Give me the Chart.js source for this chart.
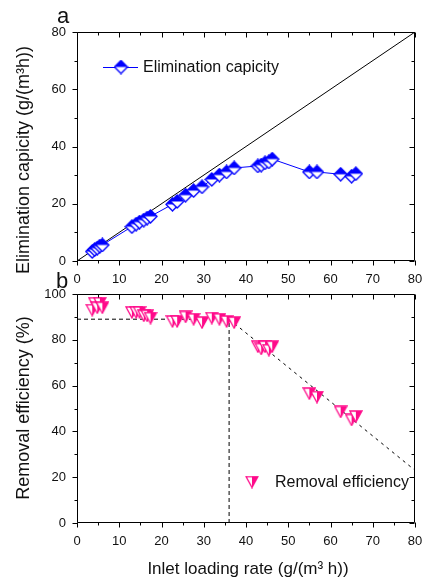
<!DOCTYPE html>
<html><head><meta charset="utf-8">
<script src="https://cdn.jsdelivr.net/npm/chart.js@4"></script>
<style>
html,body{margin:0;padding:0;background:#fff;}
#wrap{position:relative;width:422px;height:580px;overflow:hidden;background:#fff}
canvas{position:absolute;left:0}
#c1{top:0px}
#c2{top:280px}
</style></head><body>
<div id="wrap"><canvas id="c2" width="422" height="300"></canvas><canvas id="c1" width="422" height="295"></canvas></div>
<script>
// ---------- data ----------
const loadingRate = [3.6, 4.2, 4.8, 5.4, 6.0, 13.0, 14.0, 14.8, 15.8, 16.6, 17.4, 22.6, 23.7, 25.7, 27.6, 29.6, 31.9, 33.7, 35.4, 37.2, 42.8, 43.6, 44.5, 45.4, 46.2, 55.0, 56.8, 62.4, 65.0, 66.0];
const eliminationCapacity = [3.3, 4.0, 4.5, 5.2, 5.6, 12.0, 12.9, 13.6, 14.3, 15.0, 15.6, 19.8, 20.8, 23.0, 24.6, 25.9, 28.5, 30.0, 31.1, 32.5, 33.2, 33.5, 34.3, 34.6, 35.6, 31.1, 31.1, 30.3, 29.6, 30.5];
const removalEfficiency = [93, 96, 94, 96, 94, 92, 92, 92, 90.5, 90.5, 89.5, 88, 88, 90, 89, 87.5, 89.5, 89, 88, 87.5, 77, 76, 77, 75.5, 77, 56.5, 55, 48.5, 45, 46.5];
// reference / fitted guide lines
const diagonalX = [0, 80], diagonalY = [0, 80];
const plateauX = [0, 36], plateauY = [89, 89];
const criticalX = [36, 36], criticalY = [0, 89];
const declineX = [36, 80], declineY = [89, 23];
// tick labels
const xTickValues = [0, 10, 20, 30, 40, 50, 60, 70, 80];
const ecTickValues = [0, 20, 40, 60, 80];
const reTickValues = [0, 20, 40, 60, 80, 100];

const FONT = '"Liberation Sans", Arial, sans-serif';
const BLUE = '#0000ff';
const PINK = '#ff0a8a';
const TXT = '#111';

const pts = (xs, ys) => xs.map((x, i) => ({x, y: ys[i]}));

// ---------- marker glyphs ----------
function diamondHalf() {
  const c = document.createElement('canvas'); c.width = 15; c.height = 15;
  const g = c.getContext('2d'); const m = 7.5, r = 6.5;
  g.beginPath(); g.moveTo(m - r, m); g.lineTo(m, m - r); g.lineTo(m + r, m); g.lineTo(m, m + r); g.closePath();
  g.fillStyle = '#fff'; g.fill();
  g.beginPath(); g.moveTo(m - r, m); g.lineTo(m, m - r); g.lineTo(m + r, m); g.closePath();
  g.fillStyle = BLUE; g.fill();
  g.beginPath(); g.moveTo(m - r, m); g.lineTo(m, m - r); g.lineTo(m + r, m); g.lineTo(m, m + r); g.closePath();
  g.strokeStyle = BLUE; g.lineWidth = 1.3; g.stroke();
  return c;
}
function triangleHalf() {
  const c = document.createElement('canvas'); c.width = 14; c.height = 13;
  const g = c.getContext('2d');
  const l = 1, r = 13, t = 1, b = 12, m = 7;
  g.beginPath(); g.moveTo(l, t); g.lineTo(r, t); g.lineTo(m, b); g.closePath();
  g.fillStyle = '#fff'; g.fill();
  g.beginPath(); g.moveTo(m, t); g.lineTo(r, t); g.lineTo(m, b); g.closePath();
  g.fillStyle = PINK; g.fill();
  g.beginPath(); g.moveTo(l, t); g.lineTo(r, t); g.lineTo(m, b); g.closePath();
  g.strokeStyle = PINK; g.lineWidth = 1.3; g.stroke();
  return c;
}
const diamondImg = diamondHalf();
const triangleImg = triangleHalf();

// ---------- plugins ----------
const frame = {
  id: 'frame',
  afterDatasetsDraw(chart, args, o) {
    const {ctx, chartArea: {left, right, top, bottom}, scales: {x, y}} = chart;
    const L = Math.round(left) + 0.5, R = Math.round(right) - 0.5, T = Math.round(top) + 0.5, B = Math.round(bottom) - 0.5;
    ctx.save();
    ctx.strokeStyle = '#000'; ctx.lineWidth = 1;
    ctx.beginPath(); ctx.rect(L, T, R - L, B - T); ctx.stroke();
    ctx.beginPath();
    for (let v = x.min; v <= x.max + 1e-9; v += o.xMinor) {
      const px = Math.round(x.getPixelForValue(v)) + 0.5;
      const len = (Math.abs(v % o.xMajor) < 1e-9) ? 5 : 3;
      ctx.moveTo(px, B); ctx.lineTo(px, B + len);
      ctx.moveTo(px, T); ctx.lineTo(px, T + len);
    }
    for (let v = y.min; v <= y.max + 1e-9; v += o.yMinor) {
      const py = Math.round(y.getPixelForValue(v)) + 0.5;
      const len = (Math.abs(v % o.yMajor) < 1e-9) ? 5 : 3;
      ctx.moveTo(L, py); ctx.lineTo(L - len, py);
      ctx.moveTo(R, py); ctx.lineTo(R - len, py);
    }
    ctx.stroke();
    ctx.restore();
  }
};
const texts = {
  id: 'texts',
  afterDraw(chart, args, o) {
    const ctx = chart.ctx;
    ctx.save();
    ctx.fillStyle = TXT;
    (o.items || []).forEach(it => {
      ctx.save();
      ctx.font = it.size + 'px ' + FONT;
      ctx.textAlign = it.align || 'center';
      ctx.textBaseline = it.baseline || 'middle';
      ctx.translate(it.x, it.y);
      if (it.rot) ctx.rotate(it.rot);
      ctx.fillText(it.text, 0, 0);
      ctx.restore();
    });
    // legend
    const lg = o.legend;
    if (lg) {
      const ds = chart.data.datasets[lg.dataset];
      if (lg.line) {
        ctx.strokeStyle = ds.borderColor; ctx.lineWidth = 1;
        ctx.beginPath(); ctx.moveTo(lg.x0, lg.y + 0.5); ctx.lineTo(lg.x1, lg.y + 0.5); ctx.stroke();
      }
      const img = ds.pointStyle;
      ctx.drawImage(img, lg.mx - img.width / 2, lg.y - img.height / 2);
      ctx.font = lg.size + 'px ' + FONT;
      ctx.textAlign = 'left'; ctx.textBaseline = 'middle';
      ctx.fillStyle = TXT;
      ctx.fillText(ds.label, lg.tx, lg.y + 1);
    }
    ctx.restore();
  }
};

function axis(min, max, values, width, height, pad) {
  return {
    type: 'linear', min, max,
    grid: {display: false, drawTicks: false},
    border: {display: false},
    ticks: {padding: pad, color: TXT, font: {family: FONT, size: 13}, maxRotation: 0, autoSkip: false},
    afterBuildTicks(s) { s.ticks = values.map(v => ({value: v})); },
    afterFit(s) {
      if (width) s.width = width;
      if (height) s.height = height;
      s.paddingLeft = 0; s.paddingRight = 0; s.paddingTop = 0; s.paddingBottom = 0;
    }
  };
}

// ---------- chart a ----------
new Chart(document.getElementById('c1'), {
  type: 'scatter',
  data: {datasets: [
    {label: 'Elimination capicity', data: pts(loadingRate, eliminationCapacity), showLine: true,
     borderColor: BLUE, borderWidth: 1, pointStyle: diamondImg, pointRadius: 6, order: 0},
    {label: '1:1', data: pts(diagonalX, diagonalY), showLine: true, borderColor: '#000', borderWidth: 1,
     pointRadius: 0, order: 1}
  ]},
  options: {
    responsive: false, animation: false, devicePixelRatio: 1,
    layout: {padding: {top: 32, right: 3, left: 0, bottom: 0}},
    plugins: {
      legend: {display: false}, tooltip: {enabled: false},
      frame: {xMinor: 5, xMajor: 10, yMinor: 10, yMajor: 20},
      texts: {
        items: [
          {text: 'Elimination capicity (g/(m³h))', x: 24, y: 160, size: 18, rot: -Math.PI / 2},
          {text: 'a', x: 63, y: 23, size: 22, baseline: 'alphabetic'},
          {text: 'b', x: 62, y: 288, size: 22, baseline: 'alphabetic'}
        ],
        legend: {dataset: 0, line: true, x0: 103, x1: 138, mx: 121, y: 67, tx: 143, size: 16}
      }
    },
    scales: {
      x: axis(0, 80, xTickValues, 0, 34, 11),
      y: axis(0, 80, ecTickValues, 77, 0, 11)
    }
  },
  plugins: [frame, texts]
});

// ---------- chart b ----------
new Chart(document.getElementById('c2'), {
  type: 'scatter',
  data: {datasets: [
    {label: 'Removal efficiency', data: pts(loadingRate, removalEfficiency), showLine: false,
     pointStyle: triangleImg, pointRadius: 6, order: 0},
    {label: 'plateau', data: pts(plateauX, plateauY), showLine: true, borderColor: '#000', borderWidth: 1,
     borderDash: [4, 3], pointRadius: 0, order: 1},
    {label: 'critical', data: pts(criticalX, criticalY), showLine: true, borderColor: '#000', borderWidth: 1,
     borderDash: [4, 3], pointRadius: 0, order: 1},
    {label: 'decline', data: pts(declineX, declineY), showLine: true, borderColor: '#000', borderWidth: 1,
     borderDash: [3, 4], pointRadius: 0, order: 1}
  ]},
  options: {
    responsive: false, animation: false, devicePixelRatio: 1,
    layout: {padding: {top: 14, right: 3, left: 0, bottom: 0}},
    plugins: {
      legend: {display: false}, tooltip: {enabled: false},
      frame: {xMinor: 5, xMajor: 10, yMinor: 10, yMajor: 20},
      texts: {
        items: [
          {text: 'Removal efficiency (%)', x: 24, y: 128, size: 18, rot: -Math.PI / 2},
          {text: 'Inlet loading rate (g/(m³ h))', x: 248, y: 289, size: 17}
        ],
        legend: {dataset: 0, line: false, mx: 252, y: 202, tx: 275, size: 16}
      }
    },
    scales: {
      x: axis(0, 80, xTickValues, 0, 57, 11),
      y: axis(0, 100, reTickValues, 77, 0, 11)
    }
  },
  plugins: [frame, texts]
});
</script>
</body></html>
